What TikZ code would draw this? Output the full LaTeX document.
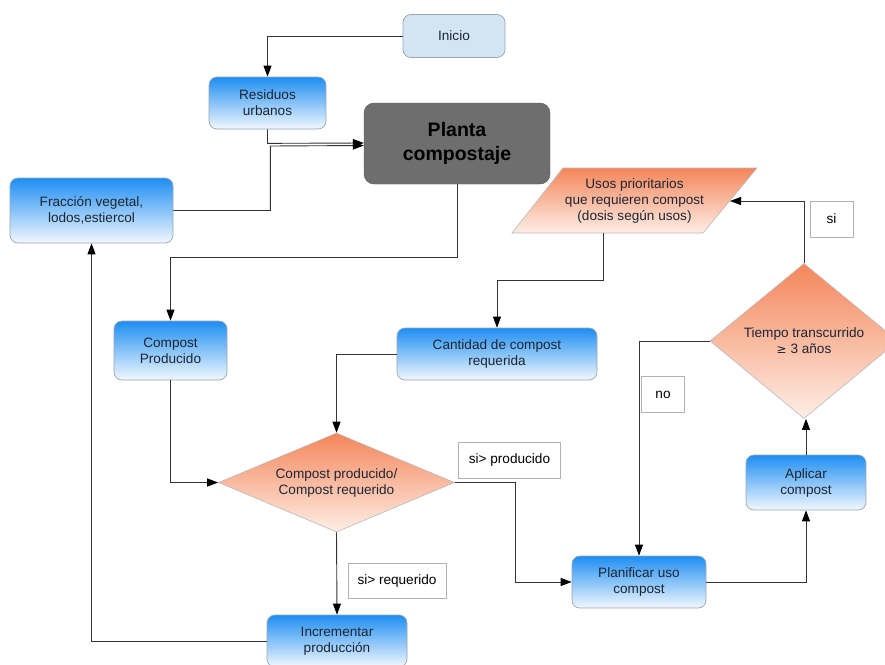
\documentclass[tikz,border=0pt]{standalone}
\usepackage{fontspec}
\setmainfont{Liberation Sans}
\usetikzlibrary{shapes.geometric,arrows.meta}

\definecolor{linegray}{HTML}{333333}
\definecolor{boxedge}{HTML}{9AA6B0}
\definecolor{bluetop}{HTML}{1E8EF2}
\definecolor{bluemid}{HTML}{6CB9F6}
\definecolor{bluebot}{HTML}{F2F8FE}
\definecolor{orangetop}{HTML}{F4865A}
\definecolor{orangemid}{HTML}{F9B897}
\definecolor{orangebot}{HTML}{FEEEE6}
\definecolor{startfill}{HTML}{D3E5F2}
\definecolor{plantfill}{HTML}{6E6E6E}
\definecolor{txt}{HTML}{1E2533}

\tikzset{
  every node/.style={font=\fontsize{13.6}{16}\selectfont, text=txt, align=center},
  process/.style={rectangle, rounded corners=8pt, draw=boxedge, line width=0.7pt,
    top color=bluetop, middle color=bluemid, bottom color=bluebot, inner sep=2pt},
  startbox/.style={rectangle, rounded corners=8pt, draw=boxedge, line width=0.7pt,
    fill=startfill, inner sep=2pt},
  plantbox/.style={rectangle, rounded corners=10pt, fill=plantfill, draw=plantfill!80!black,
    line width=0.4pt, font=\fontsize{19.5}{24}\selectfont\bfseries, text=black},
  orangeshade/.style={draw=gray!55, line width=0.6pt,
    top color=orangetop, middle color=orangemid, bottom color=orangebot},
  decision/.style={diamond, orangeshade, inner sep=0pt},
  tag/.style={rectangle, draw=gray!60, line width=0.6pt, fill=white, text=black, inner sep=0pt},
  flow/.style={draw=linegray, line width=0.9pt,
    -{Triangle[length=11pt,width=8pt,color=black,fill=black]}},
}

\begin{document}
\begin{tikzpicture}[x=1pt,y=-1pt]
\useasboundingbox[fill=white] (0,0) rectangle (885,664);

% boxes of the flow chart
\node[startbox, minimum width=102pt, minimum height=43pt] (inicio) at (454,36) {Inicio};
\node[process, minimum width=117pt, minimum height=52pt] (residuos) at (267.5,103) {Residuos\\urbanos};
\node[plantbox, minimum width=186pt, minimum height=81pt] (planta) at (457,143.5) {Planta\\compostaje};
\node[process, minimum width=163pt, minimum height=65pt] (fraccion) at (91.5,210.5) {Fracción vegetal,\\lodos,estiercol};

% input/output parallelogram with its text
\path[orangeshade] (512,233) -- (563,168) -- (757,168) -- (703,233) -- cycle;
\node (usos) at (634.5,200.5) {Usos prioritarios\\que requieren compost\\(dosis según usos)};
\coordinate (usosin) at (730,201);
\coordinate (usosout) at (603,233);

\node[process, minimum width=200pt, minimum height=52pt] (cantidad) at (497,354) {Cantidad de compost\\requerida};
\node[process, minimum width=113pt, minimum height=59pt] (producido) at (170.5,350.5) {Compost\\Producido};
\node[decision, aspect=2.38, minimum width=236pt, minimum height=99pt] (compara) at (336.5,482.5) {Compost producido/\\Compost requerido};
\node[process, minimum width=140pt, minimum height=52pt] (incrementar) at (337,641) {Incrementar\\producción};
\node[process, minimum width=134pt, minimum height=52pt] (planificar) at (639,582) {Planificar uso\\compost};
\node[process, minimum width=120pt, minimum height=55pt] (aplicar) at (806,482.5) {Aplicar\\compost};
\node[decision, aspect=1.21, minimum width=188pt, minimum height=155pt] (tiempo) at (804,341) {Tiempo transcurrido\\{\fontspec{DejaVu Sans}\fontsize{12}{16}\selectfont ≥} 3 años};

% branch labels
\node[tag, minimum width=102pt, minimum height=36pt] (tagprod) at (509.5,460) {si> producido};
\node[tag, minimum width=98pt, minimum height=35pt] (tagreq) at (397,580.5) {si> requerido};
\node[tag, minimum width=43pt, minimum height=36pt] (tagsi) at (831.5,219) {si};
\node[tag, minimum width=43pt, minimum height=36pt] (tagno) at (663,394.5) {no};

% connectors
\draw[flow] (inicio.west) -| (residuos.north);
\draw[flow] (residuos.south) -- ++(0,14) -- (planta.west |- 0,143);
\draw[flow] (fraccion.east) -| ++(97,-64.5) -- (planta.west |- 0,145.5);
\draw[flow] (planta.south) -- ++(0,73) -| (producido.north);
\draw[flow] (usosout) -- (603,280) -| (cantidad.north);
\draw[flow] (cantidad.west) -| (compara.north);
\draw[flow] (producido.south) |- (compara.west);
\draw[flow] (compara.east) -- (515,482.5) |- (planificar.west);
\draw[flow] (compara.south) -- (incrementar.north);
\draw[flow] (incrementar.west) -| (fraccion.south);
\draw[flow] (planificar.east) -| (aplicar.south);
\draw[flow] (aplicar.north) -- (tiempo.south -| aplicar.north);
\draw[flow] (tiempo.north) |- (usosin);
\draw[flow] (tiempo.west) -| (planificar.north);
\end{tikzpicture}
\end{document}
